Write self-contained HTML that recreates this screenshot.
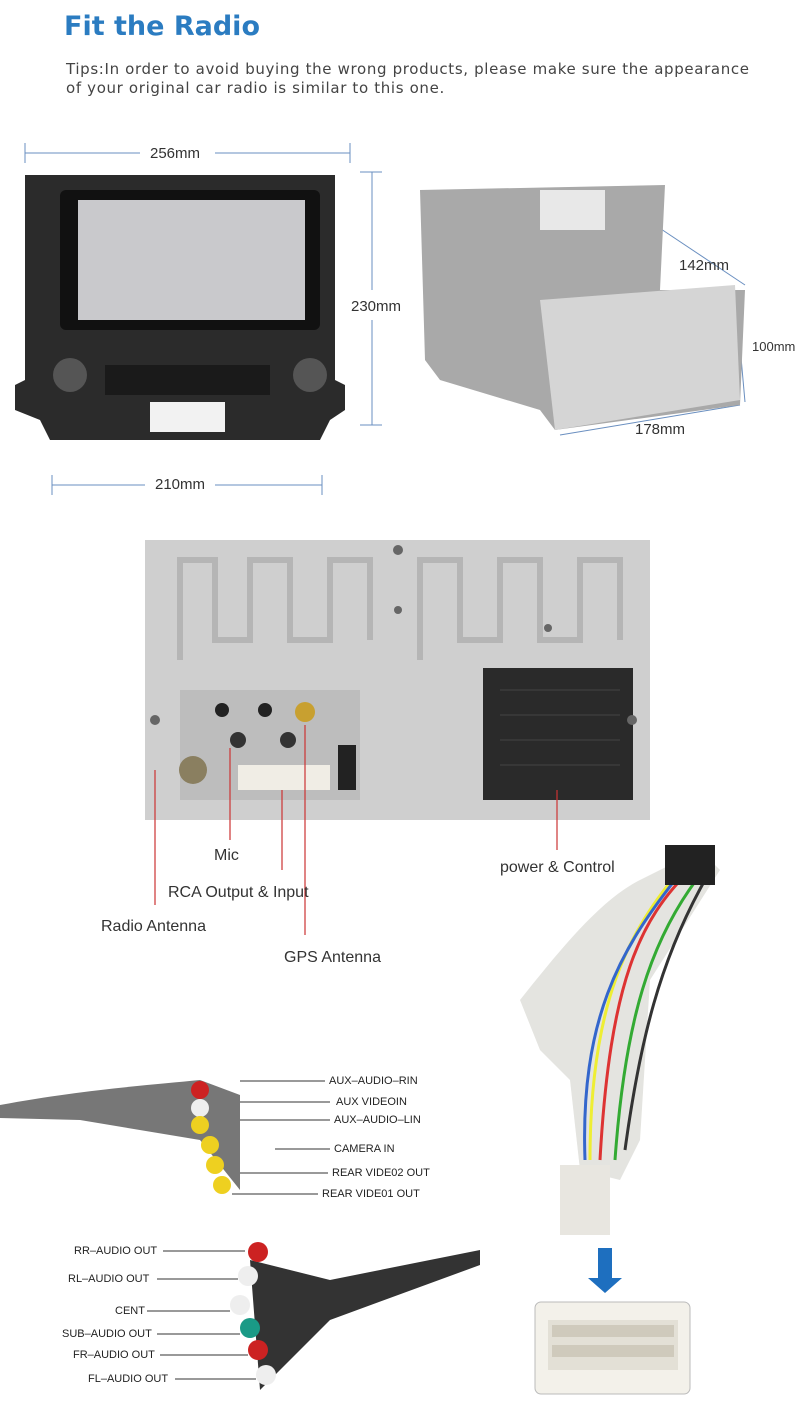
<!DOCTYPE html>
<html><head><meta charset="utf-8"><style>
body{margin:0;width:800px;height:1419px;background:#fff;position:relative;overflow:hidden;font-family:"Liberation Sans",sans-serif}
.a{position:absolute}
.t{position:absolute;white-space:nowrap}
</style></head><body>
<div class="t" style="left:64px;top:11px;font-size:27px;font-weight:bold;color:#2b7cc1;font-family:'DejaVu Sans',sans-serif;letter-spacing:0px">Fit the Radio</div>
<div class="t" style="left:66px;top:60px;font-size:15px;color:#444;letter-spacing:0.65px;line-height:19px;font-family:'DejaVu Sans',sans-serif">Tips:In order to avoid buying the wrong products, please make sure the appearance<br>of your original car radio is similar to this one.</div>

<svg class="a" style="left:0;top:0" width="800" height="1419">
<g stroke="#6a8fc0" stroke-width="1" fill="none">
<line x1="25" y1="153" x2="140" y2="153"/><line x1="215" y1="153" x2="350" y2="153"/>
<line x1="25" y1="143" x2="25" y2="163"/><line x1="350" y1="143" x2="350" y2="163"/>
<line x1="360" y1="172" x2="382" y2="172"/><line x1="360" y1="425" x2="382" y2="425"/>
<line x1="372" y1="172" x2="372" y2="290"/><line x1="372" y1="320" x2="372" y2="425"/>
<line x1="52" y1="485" x2="145" y2="485"/><line x1="215" y1="485" x2="322" y2="485"/>
<line x1="52" y1="475" x2="52" y2="495"/><line x1="322" y1="475" x2="322" y2="495"/>
<line x1="655" y1="225" x2="745" y2="285"/><line x1="735" y1="290" x2="745" y2="402"/>
<line x1="560" y1="435" x2="740" y2="405"/>
</g>
<path d="M25 175 L335 175 L335 380 L345 385 L345 410 L330 420 L320 440 L50 440 L40 420 L15 410 L15 385 L25 380Z" fill="#2b2b2b"/>
<rect x="60" y="190" width="260" height="140" rx="6" fill="#111"/>
<rect x="78" y="200" width="227" height="120" fill="#c9c9cc"/>
<rect x="105" y="365" width="165" height="30" fill="#1a1a1a"/>
<circle cx="70" cy="375" r="17" fill="#555"/><circle cx="310" cy="375" r="17" fill="#555"/>
<rect x="150" y="402" width="75" height="30" fill="#f2f2f2"/>
<path d="M420 190 L665 185 L660 290 L745 290 L740 405 L555 430 L540 410 L440 380 L425 360Z" fill="#a9a9a9"/>
<path d="M540 300 L735 285 L740 400 L555 430Z" fill="#d5d5d5"/>
<rect x="540" y="190" width="65" height="40" fill="#e8e8e8"/>
<rect x="145" y="540" width="505" height="280" fill="#cfcfcf"/>
<g fill="none" stroke="#b5b5b5" stroke-width="6"><path d="M180 660 V560 H215 V640 H250 V560 H290 V640 H330 V560 H370 V640"/><path d="M420 660 V560 H460 V640 H500 V560 H540 V640 H580 V560 H620 V640"/></g>
<rect x="180" y="690" width="180" height="110" fill="#bdbdbd"/>
<rect x="483" y="668" width="150" height="132" fill="#2a2a2a"/>
<g stroke="#444" stroke-width="1"><line x1="500" y1="690" x2="620" y2="690"/><line x1="500" y1="715" x2="620" y2="715"/><line x1="500" y1="740" x2="620" y2="740"/><line x1="500" y1="765" x2="620" y2="765"/></g>
<rect x="238" y="765" width="92" height="25" fill="#f0ede5"/>
<circle cx="193" cy="770" r="14" fill="#8a7f60"/>
<circle cx="305" cy="712" r="10" fill="#c8a030"/>
<circle cx="238" cy="740" r="8" fill="#333"/><circle cx="288" cy="740" r="8" fill="#333"/>
<circle cx="222" cy="710" r="7" fill="#222"/><circle cx="265" cy="710" r="7" fill="#222"/>
<rect x="338" y="745" width="18" height="45" fill="#222"/>
<g fill="#666"><circle cx="398" cy="550" r="5"/><circle cx="155" cy="720" r="5"/><circle cx="632" cy="720" r="5"/><circle cx="398" cy="610" r="4"/><circle cx="548" cy="628" r="4"/></g>
<g stroke="#c33" stroke-width="1.2" fill="none">
<polyline points="230,748 230,840"/><polyline points="282,790 282,870"/>
<polyline points="155,770 155,905"/><polyline points="305,725 305,935"/>
<polyline points="557,790 557,850"/>
</g>
<path d="M520 1000 C560 950 600 900 640 880 L700 850 L720 870 L650 980 L640 1140 L620 1180 L580 1170 L570 1080 L540 1050Z" fill="#e4e4e0"/>
<g stroke-width="3" fill="none"><path d="M690 870 C640 920 610 980 600 1160" stroke="#d33"/><path d="M680 870 C630 930 590 1000 590 1160" stroke="#ee3"/><path d="M700 875 C650 940 625 1020 615 1160" stroke="#3a3"/><path d="M675 880 C620 950 580 1020 585 1160" stroke="#36c"/><path d="M705 880 C660 960 640 1040 625 1150" stroke="#333"/></g>
<rect x="665" y="845" width="50" height="40" fill="#222"/>
<rect x="560" y="1165" width="50" height="70" fill="#e8e6e0"/>
<path d="M598 1248 L598 1278 L588 1278 L605 1293 L622 1278 L612 1278 L612 1248Z" fill="#1e6fbf"/>
<rect x="535" y="1302" width="155" height="92" rx="6" fill="#f3f1ea" stroke="#bbb"/>
<rect x="548" y="1320" width="130" height="50" fill="#e3e0d6"/>
<g fill="#cfcabc"><rect x="552" y="1325" width="122" height="12"/><rect x="552" y="1345" width="122" height="12"/></g>
<path d="M0 1105 C80 1090 150 1085 200 1080 L240 1095 L240 1190 L200 1140 L80 1120 L0 1118Z" fill="#777"/>
<circle cx="200" cy="1090" r="9" fill="#c22"/><circle cx="200" cy="1108" r="9" fill="#eee"/>
<circle cx="200" cy="1125" r="9" fill="#eed020"/><circle cx="210" cy="1145" r="9" fill="#eed020"/>
<circle cx="215" cy="1165" r="9" fill="#eed020"/><circle cx="222" cy="1185" r="9" fill="#eed020"/>
<path d="M250 1260 L330 1280 L480 1250 L480 1265 L330 1320 L260 1390Z" fill="#333"/>
<circle cx="258" cy="1252" r="10" fill="#c22"/><circle cx="248" cy="1276" r="10" fill="#eee"/>
<circle cx="240" cy="1305" r="10" fill="#eee"/><circle cx="250" cy="1328" r="10" fill="#1a9a86"/>
<circle cx="258" cy="1350" r="10" fill="#c22"/><circle cx="266" cy="1375" r="10" fill="#eee"/>
<g stroke="#333" stroke-width="1">
<line x1="240" y1="1081" x2="325" y2="1081"/><line x1="240" y1="1102" x2="330" y2="1102"/>
<line x1="240" y1="1120" x2="330" y2="1120"/><line x1="275" y1="1149" x2="330" y2="1149"/>
<line x1="240" y1="1173" x2="328" y2="1173"/><line x1="232" y1="1194" x2="318" y2="1194"/>
<line x1="163" y1="1251" x2="245" y2="1251"/><line x1="157" y1="1279" x2="238" y2="1279"/>
<line x1="147" y1="1311" x2="230" y2="1311"/><line x1="157" y1="1334" x2="240" y2="1334"/>
<line x1="160" y1="1355" x2="248" y2="1355"/><line x1="175" y1="1379" x2="256" y2="1379"/>
</g>
</svg>

<div class="t" style="left:150px;top:145px;font-size:15px;color:#333">256mm</div>
<div class="t" style="left:351px;top:298px;font-size:15px;color:#333">230mm</div>
<div class="t" style="left:155px;top:476px;font-size:15px;color:#333">210mm</div>
<div class="t" style="left:679px;top:257px;font-size:15px;color:#333">142mm</div>
<div class="t" style="left:752px;top:339px;font-size:13px;color:#333">100mm</div>
<div class="t" style="left:635px;top:421px;font-size:15px;color:#333">178mm</div>

<div class="t" style="left:214px;top:847px;font-size:16px;color:#333">Mic</div>
<div class="t" style="left:168px;top:884px;font-size:16px;color:#333">RCA Output &amp; Input</div>
<div class="t" style="left:101px;top:918px;font-size:16px;color:#333">Radio Antenna</div>
<div class="t" style="left:284px;top:949px;font-size:16px;color:#333">GPS Antenna</div>
<div class="t" style="left:500px;top:859px;font-size:16px;color:#333">power &amp; Control</div>

<div style="font-size:11px;color:#222">
<div class="t" style="left:329px;top:1075px">AUX–AUDIO–RIN</div>
<div class="t" style="left:336px;top:1096px">AUX VIDEOIN</div>
<div class="t" style="left:334px;top:1114px">AUX–AUDIO–LIN</div>
<div class="t" style="left:334px;top:1143px">CAMERA IN</div>
<div class="t" style="left:332px;top:1167px">REAR VIDE02 OUT</div>
<div class="t" style="left:322px;top:1188px">REAR VIDE01 OUT</div>
<div class="t" style="left:74px;top:1245px">RR–AUDIO OUT</div>
<div class="t" style="left:68px;top:1273px">RL–AUDIO OUT</div>
<div class="t" style="left:115px;top:1305px">CENT</div>
<div class="t" style="left:62px;top:1328px">SUB–AUDIO OUT</div>
<div class="t" style="left:73px;top:1349px">FR–AUDIO OUT</div>
<div class="t" style="left:88px;top:1373px">FL–AUDIO OUT</div>
</div>
</body></html>
